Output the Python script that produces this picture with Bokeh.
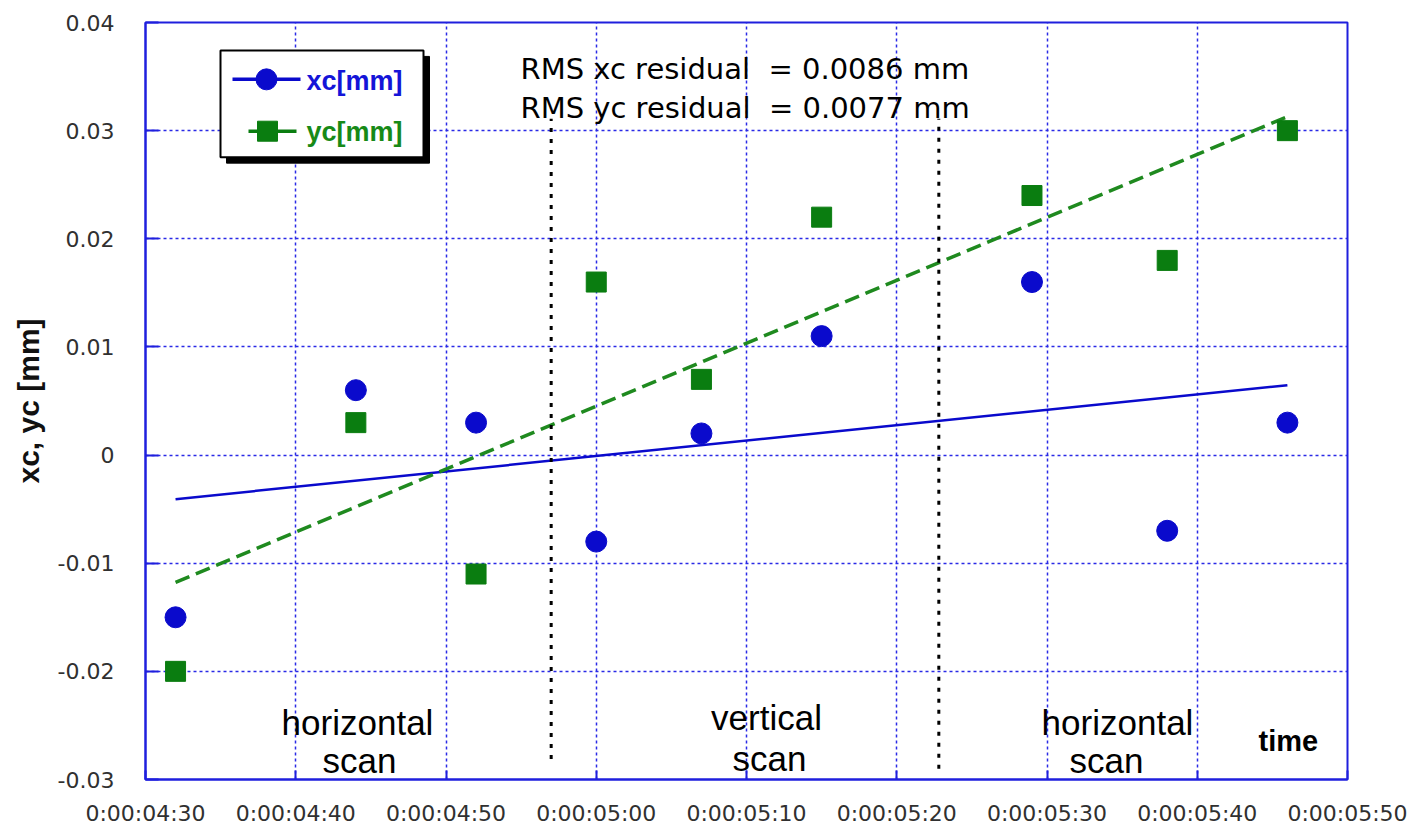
import numpy as np
from bokeh.plotting import figure
from bokeh.models import Range1d, FixedTicker, ColumnDataSource
from bokeh.core.properties import value
from bokeh.embed import file_html
from bokeh.resources import INLINE

# Measurement times (seconds after 0:00:00:00) and beam centre offsets
t_sec = [272, 284, 292, 300, 307, 315, 329, 338, 346]
xc_mm = [-0.015, 0.006, 0.003, -0.008, 0.002, 0.011, 0.016, -0.007, 0.003]
yc_mm = [-0.020, 0.003, -0.011, 0.016, 0.007, 0.022, 0.024, 0.018, 0.030]

# Axis ticks
x_ticks = [270, 280, 290, 300, 310, 320, 330, 340, 350]
x_tick_labels = ["0:00:04:30", "0:00:04:40", "0:00:04:50", "0:00:05:00", "0:00:05:10",
                 "0:00:05:20", "0:00:05:30", "0:00:05:40", "0:00:05:50"]
y_ticks = [-0.03, -0.02, -0.01, 0, 0.01, 0.02, 0.03, 0.04]
y_tick_labels = ["-0.03", "-0.02", "-0.01", "0", "0.01", "0.02", "0.03", "0.04"]

# Scan boundaries (time) and their vertical extent
sep_t = [297.0, 322.8]
sep_top = [0.0311, 0.0311]
sep_bottom = [-0.0281, -0.0290]

# two spaces before "=" (second one non-breaking so SVG keeps it)
rms_lines = ["RMS xc residual \u00a0= 0.0086 mm", "RMS yc residual \u00a0= 0.0077 mm"]

BLUE = "#0a0acc"
GREEN = "#0a7d10"
FRAME = "#1f1fdd"

W, H = 1414, 828
ML, MR, MT, MB = 145, 67, 22, 47
X0, X1, Y0, Y1 = 270, 350, -0.03, 0.04

p = figure(width=W, height=H, output_backend="svg", toolbar_location=None,
           x_range=Range1d(X0, X1), y_range=Range1d(Y0, Y1),
           min_border_left=ML, min_border_right=MR, min_border_top=MT, min_border_bottom=MB)
p.background_fill_color = "white"
p.border_fill_color = "white"
p.outline_line_color = FRAME
p.outline_line_width = 2

# pixel -> data helpers for decorations placed at fixed spots on the canvas
sx = (W - ML - MR) / (X1 - X0)
sy = (H - MT - MB) / (Y1 - Y0)
def tx(px):
    return X0 + (px - ML) / sx
def vy(py):
    return Y1 - (py - MT) / sy

# axes
p.xaxis.ticker = FixedTicker(ticks=x_ticks)
p.yaxis.ticker = FixedTicker(ticks=y_ticks)
p.xaxis.major_label_overrides = {t: s for t, s in zip(x_ticks, x_tick_labels)}
p.yaxis.major_label_overrides = {t: s for t, s in zip(y_ticks, y_tick_labels)}
for ax in (p.xaxis, p.yaxis):
    ax.axis_line_color = FRAME
    ax.axis_line_width = 2
    ax.major_tick_line_color = FRAME
    ax.major_tick_line_width = 2
    ax.major_tick_out = 0
    ax.minor_tick_line_color = None
    ax.major_label_text_font = "DejaVu Sans"
    ax.major_label_text_font_size = "22px"
    ax.major_label_text_color = "#303030"
p.xaxis.major_tick_in = 9
p.yaxis.major_tick_in = 13
p.xaxis.major_label_standoff = 21
p.yaxis.major_label_standoff = 31
p.yaxis.axis_label = "xc, yc [mm]"
p.yaxis.axis_label_text_font = "Liberation Sans"
p.yaxis.axis_label_text_font_style = "bold"
p.yaxis.axis_label_text_font_size = "30px"
p.yaxis.axis_label_text_color = "#111111"
p.yaxis.axis_label_standoff = 10

p.grid.grid_line_color = "#2a2ae6"
p.grid.grid_line_dash = "3 3"
p.grid.grid_line_width = 1.5

# linear fits
tt = np.array(t_sec, dtype=float)
fit_t = [tt.min(), tt.max()]
kx = np.polyfit(tt, xc_mm, 1)
ky = np.polyfit(tt, yc_mm, 1)
p.line(fit_t, list(np.polyval(kx, fit_t)), line_color=BLUE, line_width=2.5)
p.line(fit_t, list(np.polyval(ky, fit_t)), line_color="#1f8a1f", line_width=3.5, line_dash="15 7")

# scan separators
p.segment(x0=sep_t, y0=sep_bottom, x1=sep_t, y1=sep_top,
          line_color="black", line_width=3, line_dash="4 7")

# data points
src = ColumnDataSource(dict(t=t_sec, xc=xc_mm, yc=yc_mm))
p.scatter("t", "xc", source=src, marker="circle", size=21, fill_color=BLUE, line_color=BLUE)
p.scatter("t", "yc", source=src, marker="square", size=20, fill_color=GREEN, line_color=GREEN)

# annotations
def put(xs, ys, texts, size, font="Liberation Sans", style="normal", align="center",
        baseline="alphabetic", color="black"):
    p.text(x=xs, y=ys, text=texts, text_font=value(font), text_font_size=value(size),
           text_font_style=style, text_align=align, text_baseline=baseline, text_color=color)

put([tx(520), tx(520)], [vy(69), vy(108)], rms_lines, "29px", font="DejaVu Sans", align="left")
put([tx(357), tx(359)], [vy(724), vy(762)], ["horizontal", "scan"], "35px")
put([tx(766), tx(769)], [vy(719), vy(760)], ["vertical", "scan"], "35px")
put([tx(1117), tx(1106)], [vy(724), vy(762)], ["horizontal", "scan"], "35px")
put([tx(1258)], [vy(742)], ["time"], "29px", style="bold", align="left")

# legend box with drop shadow
p.quad(left=[tx(226)], right=[tx(429)], top=[vy(56)], bottom=[vy(163)],
       fill_color="black", line_color="black")
p.quad(left=[tx(220)], right=[tx(423)], top=[vy(50)], bottom=[vy(157)],
       fill_color="white", line_color="black", line_width=2)
p.line([tx(232), tx(300)], [vy(79), vy(79)], line_color=BLUE, line_width=3.5)
p.scatter([tx(266)], [vy(79)], marker="circle", size=21, fill_color=BLUE, line_color=BLUE)
p.line([tx(248), tx(296)], [vy(131), vy(131)], line_color=GREEN, line_width=3.5)
p.scatter([tx(267)], [vy(131)], marker="square", size=20, fill_color=GREEN, line_color=GREEN)
put([tx(306)], [vy(81)], ["xc[mm]"], "27px", style="bold", align="left", baseline="middle", color="#1414d8")
put([tx(306)], [vy(132)], ["yc[mm]"], "27px", style="bold", align="left", baseline="middle", color="#178a17")

open("out.html", "w").write(file_html(p, INLINE))
